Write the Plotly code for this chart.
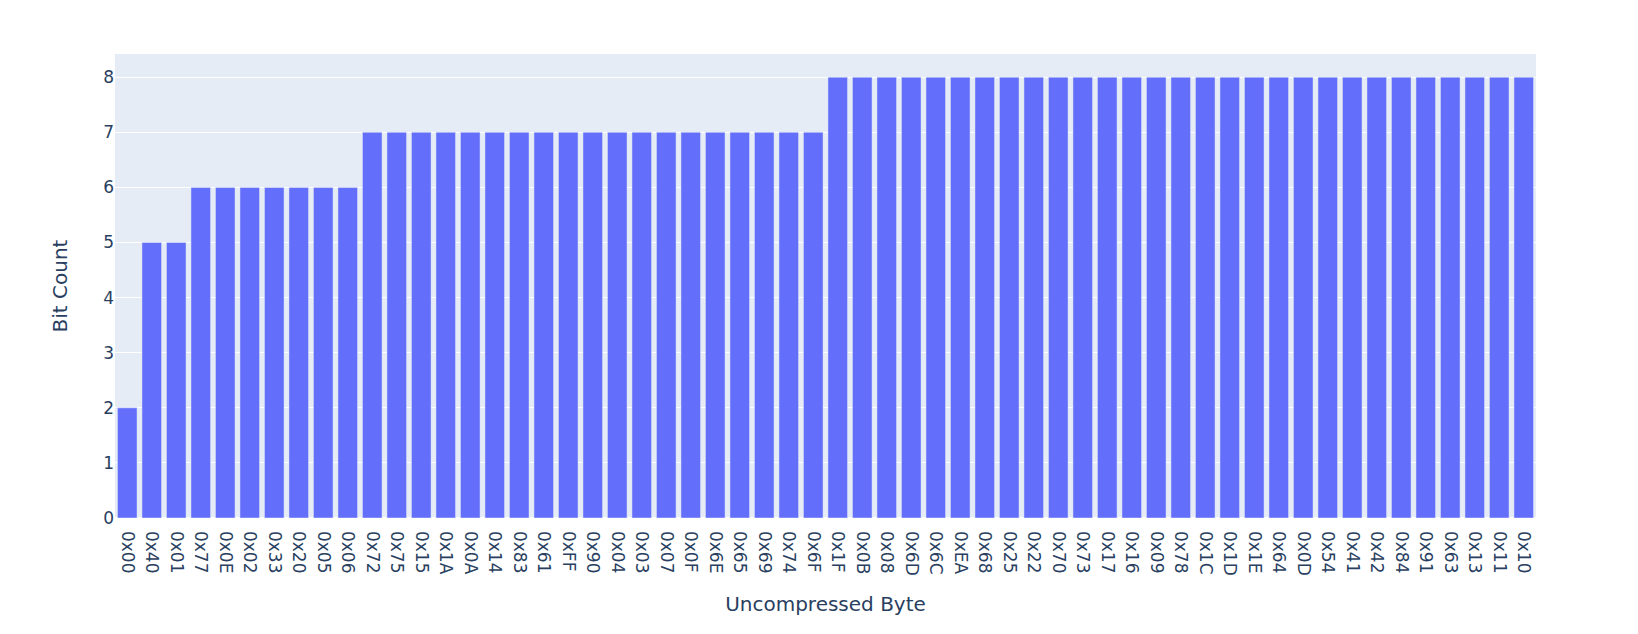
import plotly.graph_objects as go

categories = ["0x00", "0x40", "0x01", "0x77", "0x0E", "0x02", "0x33", "0x20", "0x05", "0x06",
              "0x72", "0x75", "0x15", "0x1A", "0x0A", "0x14", "0x83", "0x61", "0xFF", "0x90",
              "0x04", "0x03", "0x07", "0x0F", "0x6E", "0x65", "0x69", "0x74", "0x6F",
              "0x1F", "0x0B", "0x08", "0x6D", "0x6C", "0xEA", "0x68", "0x25", "0x22", "0x70",
              "0x73", "0x17", "0x16", "0x09", "0x78", "0x1C", "0x1D", "0x1E", "0x64", "0x0D",
              "0x54", "0x41", "0x42", "0x84", "0x91", "0x63", "0x13", "0x11", "0x10"]
bit_counts = [2, 5, 5, 6, 6, 6, 6, 6, 6, 6,
              7, 7, 7, 7, 7, 7, 7, 7, 7, 7,
              7, 7, 7, 7, 7, 7, 7, 7, 7,
              8, 8, 8, 8, 8, 8, 8, 8, 8, 8,
              8, 8, 8, 8, 8, 8, 8, 8, 8, 8,
              8, 8, 8, 8, 8, 8, 8, 8, 8]

fig = go.Figure(go.Bar(x=categories, y=bit_counts))
fig.update_layout(
    width=1638, height=634,
    font=dict(family="DejaVu Sans", size=17),
    margin=dict(l=107, r=110, t=46, b=124, autoexpand=False),
    xaxis=dict(title=dict(text="Uncompressed Byte", font=dict(size=20), standoff=22),
               type="category", tickangle=90, automargin=False, ticklabelstandoff=12),
    yaxis=dict(title=dict(text="Bit Count", font=dict(size=20), standoff=30), automargin=False),
)
fig.write_html("out.html")
